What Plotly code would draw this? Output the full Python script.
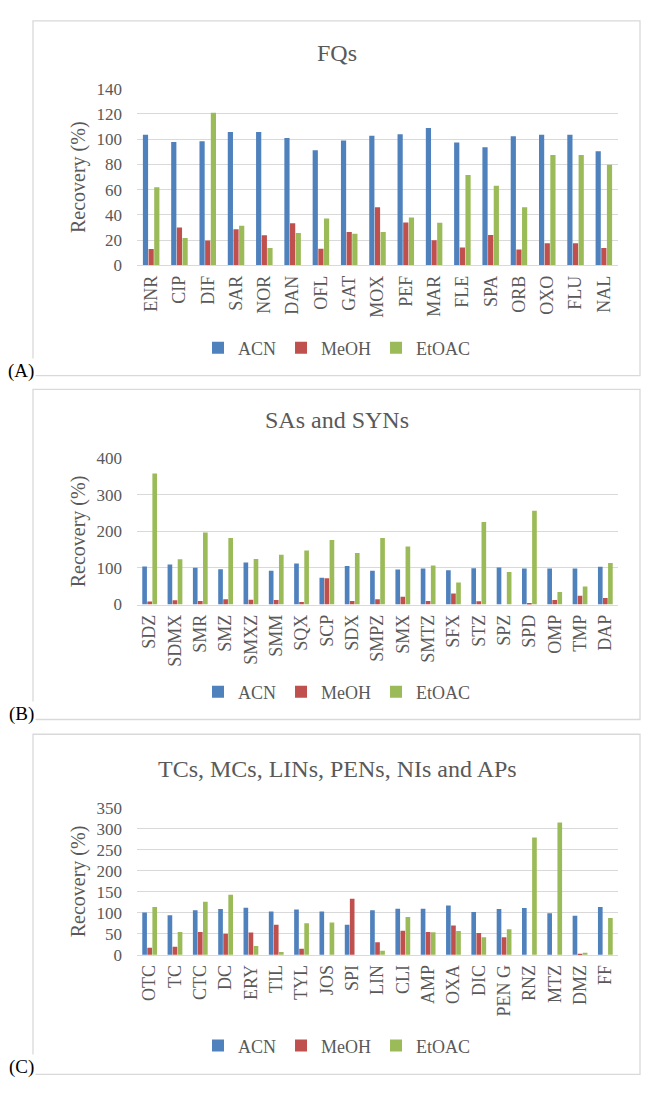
import plotly.graph_objects as go

W, H = 654, 1100

def px(x):
    return x / W

def py(y):
    return 1 - y / H

series_names = ["ACN", "MeOH", "EtOAC"]
series_colors = ["#4F81BD", "#C0504D", "#9BBB59"]

# Panel A: FQs
fq_cats = ["ENR", "CIP", "DIF", "SAR", "NOR", "DAN", "OFL", "GAT", "MOX", "PEF",
           "MAR", "FLE", "SPA", "ORB", "OXO", "FLU", "NAL"]
fq_acn = [103.4, 97.7, 98.4, 105.7, 105.7, 101.0, 91.2, 99.0, 102.6, 103.9,
          108.8, 97.4, 93.5, 102.3, 103.4, 103.4, 90.4]
fq_meoh = [13.0, 30.0, 19.7, 28.6, 23.9, 33.5, 13.2, 26.6, 46.0, 34.0,
           20.0, 14.3, 24.2, 12.7, 17.7, 17.7, 13.8]
fq_etoac = [62.0, 21.8, 120.8, 31.4, 13.8, 25.7, 37.1, 25.2, 26.5, 37.9,
            33.8, 71.7, 63.1, 46.0, 87.5, 87.5, 79.7]

# Panel B: SAs and SYNs
sa_cats = ["SDZ", "SDMX", "SMR", "SMZ", "SMXZ", "SMM", "SQX", "SCP", "SDX", "SMPZ",
           "SMX", "SMTZ", "SFX", "STZ", "SPZ", "SPD", "OMP", "TMP", "DAP"]
sa_acn = [104.0, 109.5, 100.7, 96.6, 114.5, 92.0, 111.9, 73.4, 105.6, 92.0,
          95.5, 98.4, 93.9, 99.3, 101.1, 98.4, 98.4, 98.4, 103.0]
sa_meoh = [8.0, 11.6, 9.8, 14.3, 13.4, 12.5, 7.2, 71.6, 9.8, 14.3,
           21.5, 9.8, 30.4, 8.9, 0.0, 4.5, 12.5, 24.2, 17.9]
sa_etoac = [358.0, 124.0, 197.0, 181.7, 124.5, 136.0, 147.7, 176.3, 140.5, 181.7,
            158.4, 106.5, 59.9, 225.5, 88.6, 256.0, 34.0, 49.2, 113.6]

# Panel C: TCs, MCs, LINs, PENs, NIs and APs
c_cats = ["OTC", "TC", "CTC", "DC", "ERY", "TIL", "TYL", "JOS", "SPI", "LIN",
          "CLI", "AMP", "OXA", "DIC", "PEN G", "RNZ", "MTZ", "DMZ", "FF"]
c_acn = [101.0, 94.0, 105.8, 108.9, 112.0, 103.4, 108.0, 103.4, 71.5, 105.8,
         109.6, 109.6, 117.4, 101.9, 108.9, 111.2, 98.8, 93.3, 113.6]
c_meoh = [17.0, 19.4, 54.4, 50.5, 52.9, 71.5, 14.8, 0.0, 133.7, 30.3,
          57.5, 54.4, 70.0, 52.1, 42.0, 0.0, 0.0, 2.5, 0.0]
c_etoac = [113.6, 54.4, 126.3, 143.0, 21.0, 7.0, 75.4, 77.0, 0.0, 10.0,
           90.2, 53.7, 56.8, 42.0, 60.7, 279.0, 315.0, 5.0, 87.9]

panel_titles = ["FQs", "SAs and SYNs", "TCs, MCs, LINs, PENs, NIs and APs"]
panel_tags = ["(A)", "(B)", "(C)"]
y_ranges = [(0, 140), (0, 400), (0, 350)]
y_dticks = [20, 100, 50]

FONT = "Liberation Serif"
GRAY = "#595959"
LINE = "#D9D9D9"

# geometry (pixels from top-left)
plot_x = (137, 618)
plot_y = [(81, 261), (457, 606), (812.7, 962.5)]
boxes = [(33, 12, 640, 373), (33, 387, 640, 723), (33, 738, 640, 1084)]
title_y = [45, 418, 773]
legend_y = [345, 695, 1055]
tag_y = [368, 717, 1077]

panels = [
    (fq_cats, [fq_acn, fq_meoh, fq_etoac]),
    (sa_cats, [sa_acn, sa_meoh, sa_etoac]),
    (c_cats, [c_acn, c_meoh, c_etoac]),
]

fig = go.Figure()
shapes = []
annotations = []
layout = {}

for i, (cats, vals) in enumerate(panels):
    n = "" if i == 0 else str(i + 1)
    leg = "legend" if i == 0 else "legend" + str(i + 1)
    for name, color, v in zip(series_names, series_colors, vals):
        fig.add_trace(go.Bar(
            x=cats, y=v, name=name, marker=dict(color=color, line=dict(width=0)),
            xaxis="x" + n, yaxis="y" + n, legend=leg, showlegend=True,
        ))
    layout["xaxis" + n] = dict(
        domain=[px(plot_x[0]), px(plot_x[1])], anchor="y" + n,
        type="category", tickangle=-90, showgrid=False,
        showline=True, linecolor=LINE, linewidth=1, ticks="",
        tickfont=dict(family=FONT, size=18, color=GRAY),
        ticklabelstandoff=2,
    )
    layout["yaxis" + n] = dict(
        domain=[py(plot_y[i][1]), py(plot_y[i][0])], anchor="x" + n,
        range=list(y_ranges[i]), dtick=y_dticks[i], showgrid=True,
        gridcolor=LINE, gridwidth=1.3, zeroline=False, showline=False, ticks="",
        tickfont=dict(family=FONT, size=17, color=GRAY),
        ticklabelstandoff=14,
    )
    layout[leg] = dict(
        orientation="h", x=px(337), xanchor="center", y=py(legend_y[i]), yanchor="middle",
        font=dict(family=FONT, size=18, color=GRAY), bgcolor="rgba(0,0,0,0)",
        itemwidth=30, traceorder="normal",
    )
    x0, y0, x1, y1 = boxes[i]
    shapes.append(dict(type="rect", xref="paper", yref="paper",
                       x0=px(x0), x1=px(x1), y0=py(y1), y1=py(y0),
                       line=dict(color=LINE, width=1.3), layer="below"))
    annotations.append(dict(text=panel_titles[i], xref="paper", yref="paper",
                            x=px(337), y=py(title_y[i]), xanchor="center", yanchor="middle",
                            showarrow=False, font=dict(family=FONT, size=24, color=GRAY)))
    annotations.append(dict(text="Recovery (%)", xref="paper", yref="paper",
                            x=px(78), y=py((plot_y[i][0] + plot_y[i][1]) / 2),
                            xanchor="center", yanchor="middle", textangle=-90,
                            showarrow=False, font=dict(family=FONT, size=20, color=GRAY)))
    annotations.append(dict(text=panel_tags[i], xref="paper", yref="paper",
                            x=px(21), y=py(tag_y[i]), xanchor="center", yanchor="middle",
                            showarrow=False, bgcolor="white",
                            font=dict(family=FONT, size=19, color="black")))

fig.update_layout(
    width=W, height=H, margin=dict(l=0, r=0, t=0, b=0),
    paper_bgcolor="white", plot_bgcolor="white",
    barmode="group", bargap=0.4, bargroupgap=0.08,
    shapes=shapes, annotations=annotations, **layout,
)

fig.write_html("out.html", config={"displayModeBar": False},
               post_script="document.body.style.margin='0';")
